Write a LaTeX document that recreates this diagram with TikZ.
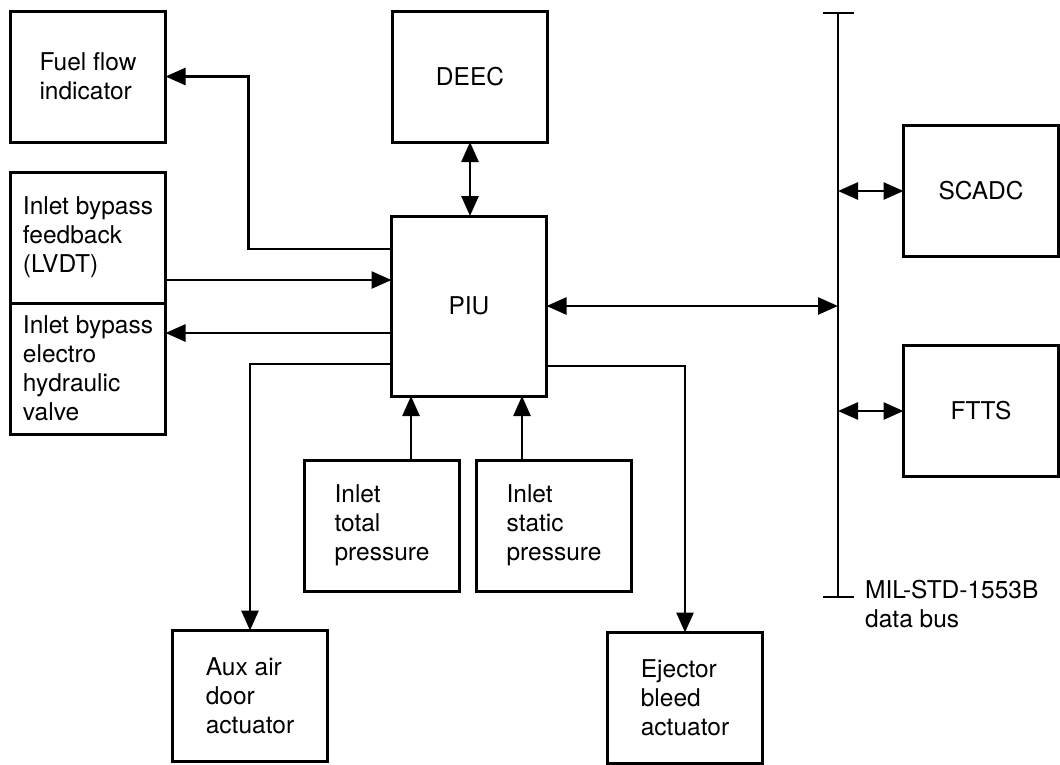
\documentclass[tikz,border=0pt]{standalone}
\usepackage{fontspec}
\setmainfont{TeX Gyre Heros}
\usepackage{tikz}
\usetikzlibrary{arrows.meta, positioning}
\tikzset{>={Triangle[length=20pt, width=17pt]},
         node distance=17pt,
         unit/.style={draw, line width=3pt, minimum width=155pt, minimum height=131pt,
                      align=left, outer sep=0pt},
         wire/.style={line width=2.6pt},
         }

\begin{document}
\begin{tikzpicture}[x=1pt, y=-1pt, font=\fontsize{24.5pt}{29pt}\selectfont]
    \useasboundingbox (0,0) rectangle (1060,764);

    \node[unit] (fuel) at (88,76.5) {Fuel flow\\indicator};
    \node[unit] (deec) at (470,76.5) {DEEC};
    \node[unit] (lvdt) at (88,237.5) {Inlet bypass\\feedback\\(LVDT)};
    \node[unit, below=0pt of lvdt] (valve) {Inlet bypass\\electro\\hydraulic\\valve};
    \node[unit, minimum height=180pt] (piu) at (469,306) {PIU};
    \node[unit] (scadc) at (981,191) {SCADC};
    \node[unit, below=89pt of scadc] (ftts) {FTTS};
    \node[unit] (ptot) at (382,525.5) {Inlet\\total\\pressure};
    \node[unit, right=of ptot] (pstat) {Inlet\\static\\pressure};
    \node[unit] (auxdoor) at (250,696) {Aux air\\door\\actuator};
    \node[unit] (ejector) at (685,698) {Ejector\\bleed\\actuator};

    % data bus
    \coordinate (bustop) at (838,12);
    \coordinate (busbot) at (838,598);
    \draw[line width=2.4pt, {Bar[width=31pt]}-{Bar[width=31pt]}] (bustop) -- (busbot);
    \node[anchor=north west, inner sep=0pt, align=left] (buslabel)
        at ([xshift=27pt, yshift=18pt]busbot) {MIL-STD-1553B\\data bus};

    % PIU pins
    \coordinate (pw1) at ([yshift=-33]piu.north west);
    \coordinate (pw2) at ([yshift=-64]piu.north west);
    \coordinate (pw3) at ([yshift=-117]piu.north west);
    \coordinate (pw4) at ([yshift=-148]piu.north west);
    \coordinate (pe1) at ([yshift=-150]piu.north east);
    \coordinate (ps1) at ([xshift=-58]piu.south);
    \coordinate (ps2) at ([xshift=53]piu.south);

    \draw[wire, ->] (pw1) -- ++(-143,0) |- (fuel.east);
    \draw[wire, ->] (lvdt.east |- pw2) -- (pw2);
    \draw[wire, ->] (pw3) -- (valve.east |- pw3);
    \draw[wire, ->] (pw4) -| (auxdoor.north);
    \draw[wire, ->] (pe1) -| (ejector.north);
    \draw[wire, ->] (ptot.north -| ps1) -- (ps1);
    \draw[wire, ->] (pstat.north -| ps2) -- (ps2);
    \draw[wire, <->] (deec.south) -- (deec.south |- piu.north);
    \draw[wire, <->] (piu.east) -- (piu.east -| bustop);
    \draw[wire, <->] (scadc.west -| bustop) -- (scadc.west);
    \draw[wire, <->] (ftts.west -| bustop) -- (ftts.west);
\end{tikzpicture}
\end{document}
